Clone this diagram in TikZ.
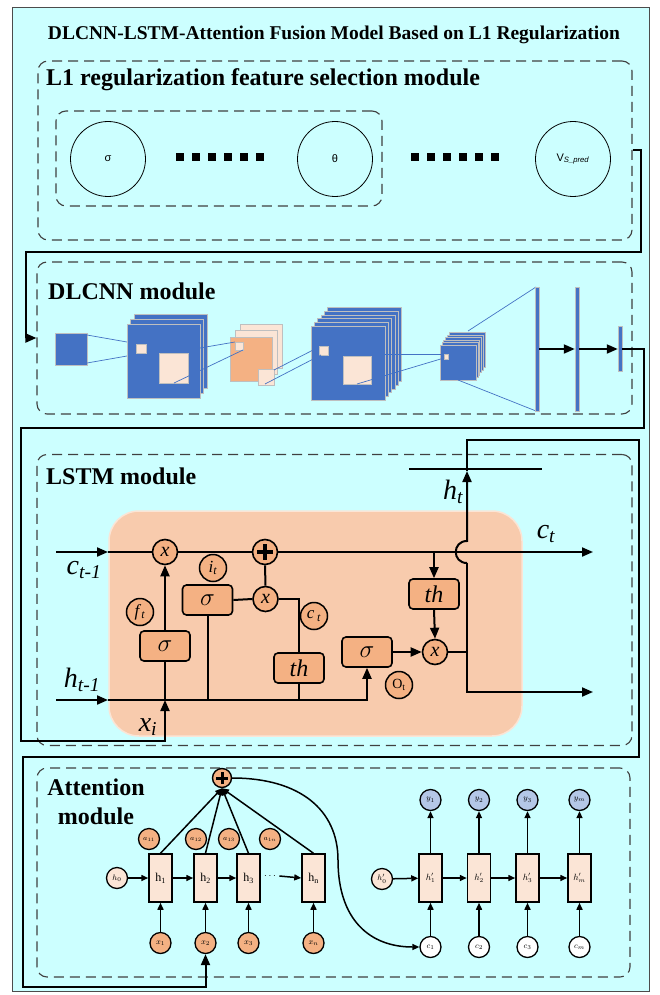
\documentclass[tikz,border=0pt]{standalone}
\usepackage{fontspec}
\setmainfont{Liberation Serif}
\setsansfont{Liberation Sans}
\usetikzlibrary{arrows.meta}

\definecolor{bgcyan}{HTML}{CCFFFF}
\definecolor{cnnblue}{HTML}{4472C4}
\definecolor{peach}{HTML}{FBE5D6}
\definecolor{lorange}{HTML}{F8CBAD}
\definecolor{gorange}{HTML}{F4B183}
\definecolor{lav}{HTML}{B4C7E7}

\newcommand{\fsz}[1]{\fontsize{#1}{#1}\selectfont}

\tikzset{
  module/.style={draw=black!75, line width=1.1pt, dash pattern=on 10pt off 6pt, rounded corners=10pt, inner sep=0pt},
  link/.style={line width=2pt},
  tip/.style={-{Triangle[length=11pt,width=9pt]}},
  gate/.style={draw, line width=1.6pt, fill=gorange, rounded corners=4pt, minimum width=50pt, minimum height=30pt, inner sep=0pt, font=\fsz{24}},
  op/.style={circle, draw, line width=1.6pt, fill=gorange, minimum size=25pt, inner sep=0pt, font=\fsz{20}},
  tag/.style={circle, draw, line width=1.5pt, fill=gorange, minimum size=27pt, inner sep=0pt, font=\fsz{17}},
  feat/.style={circle, draw, line width=0.8pt, minimum size=75pt, inner sep=0pt, font=\sffamily\fsz{11}},
  cnn/.style={fill=cnnblue, draw=black!25, line width=0.6pt},
  patch/.style={fill=peach, draw=black!25, line width=0.6pt},
  wire/.style={draw=cnnblue, line width=0.7pt},
  fc/.style={fill=cnnblue, draw=black!25, line width=0.5pt, inner sep=0pt, minimum width=4pt},
  alink/.style={line width=1.5pt},
  atip/.style={-{Triangle[length=7pt,width=6pt]}},
  cell/.style={draw, line width=1.5pt, fill=peach, minimum width=23pt, minimum height=48pt, inner sep=0pt},
  ball/.style={circle, draw, line width=1.3pt, minimum size=21pt, inner sep=0pt, font=\fsz{8}},
  lbl/.style={anchor=west, inner sep=0pt, font=\bfseries\fsz{24}},
}

\begin{document}
\begin{tikzpicture}[x=1pt,y=-1pt]
\useasboundingbox (0,0) rectangle (659,995);
\filldraw[fill=bgcyan, draw=black!70, line width=0.8pt] (12,7) rectangle (649,991);
\node[font=\bfseries\fsz{19.5}] (title) at (334,35) {DLCNN-LSTM-Attention Fusion Model Based on L1 Regularization};

% L1 module
\node[module, minimum width=594pt, minimum height=179pt] (l1box) at (335,150.5) {};
\node[lbl] (l1lbl) at (46,80) {L1 regularization feature selection module};
\node[module, minimum width=326pt, minimum height=95pt] (selbox) at (219,158.5) {};
\node[feat] (fsig) at (108,159) {σ};
\node[feat] (ftheta) at (335,159) {θ};
\node[feat] (fvs) at (573,159) {V\textsubscript{\textit{S\_pred}}};
\foreach \i in {0,...,5} {
  \fill (176+16*\i,153) rectangle ++(8,8);
  \fill (411+16*\i,153) rectangle ++(8,8);
}

% DLCNN module
\node[module, minimum width=595pt, minimum height=152pt] (cnnbox) at (334.5,338) {};
\node[lbl] (cnnlbl) at (48,291) {DLCNN module};
\draw[link, tip] (l1box.east) -| (641,252) -| (26,338) -- (cnnbox.west);

\filldraw[cnn] (55,333) rectangle (87,365);
\draw[wire] (87,335) -- (127,342);
\draw[wire] (87,363) -- (127,356);
\foreach \k in {2,1,0}
  \filldraw[cnn] (127+3.5*\k,324-5*\k) rectangle ++(73,74);
\filldraw[patch] (136,344) rectangle (146,353);
\filldraw[patch] (159,353) rectangle (188,383);
\foreach \k in {2,1}
  \filldraw[patch] (230+5*\k,337-6.5*\k) rectangle ++(42,44);
\filldraw[fill=gorange, draw=black!25, line width=0.6pt] (230,337) rectangle ++(42,44);
\filldraw[patch] (235,342) rectangle (243,350);
\filldraw[patch] (258,369) rectangle (274,385);
\draw[wire] (200,348) -- (235,342);
\draw[wire] (174,383) -- (243,350);
\foreach \k in {5,4,...,0}
  \filldraw[cnn] (311+3.3*\k,326-3.7*\k) rectangle ++(74,74);
\filldraw[patch] (319,346) rectangle (328,355);
\filldraw[patch] (343,356) rectangle (371,384);
\draw[wire] (274,370) -- (319,347);
\draw[wire] (265,384) -- (321,355);
\foreach \k in {5,4,...,0}
  \filldraw[cnn] (440+1.8*\k,345-2.5*\k) rectangle ++(36,35);
\filldraw[patch] (444,354) rectangle (448,359);
\draw[wire] (371,354) -- (444,354);
\draw[wire] (357,384) -- (444,358);
\draw[wire] (468,331) -- (536,287);
\draw[wire] (458,380) -- (536,411);
\node[fc, minimum height=124pt] (fc1) at (537,349) {};
\node[fc, minimum height=124pt] (fc2) at (577,349) {};
\node[fc, minimum height=45pt] (fc3) at (620,349) {};
\draw[link, tip] (fc1.east) -- (fc2.west);
\draw[link, tip] (fc2.east) -- (fc3.west);

% LSTM module
\node[module, minimum width=595pt, minimum height=291pt] (lstmbox) at (334.5,600) {};
\node[lbl] (lstmlbl) at (46,476) {LSTM module};
\filldraw[fill=lorange, draw=peach, line width=1.5pt, rounded corners=30pt] (109,511) rectangle (522,736);
\coordinate (xin) at (165,700);
\draw[link, tip] (fc3.east) -| (644,428) -| (21,741) -| (xin);

\node[op] (mf) at (165,552) {\textit{x}};
\node[op] (pl) at (265,552) {};
\draw[line width=3.5pt] ([xshift=-8pt]pl.center) -- ([xshift=8pt]pl.center);
\draw[line width=3.5pt] ([yshift=-8pt]pl.center) -- ([yshift=8pt]pl.center);
\node[op] (mi) at (265.5,599) {\textit{x}};
\node[op] (mo) at (435,652) {\textit{x}};
\node[gate] (sf) at (165,646) {$\sigma$};
\node[gate] (si) at (207.5,600) {$\sigma$};
\node[gate] (thc) at (299,668) {\textit{th}};
\node[gate] (so) at (367,652) {$\sigma$};
\node[gate] (tho) at (434,594) {\textit{th}};
\node[tag] (ft) at (140,612) {\textit{f}\textsubscript{\textit{t}}};
\node[tag] (it) at (213,568) {\textit{i}\textsubscript{\textit{t}}};
\node[tag] (ctil) at (314,616) {\textit{c}\,\textsubscript{\textit{t}}};
\node[tag, font=\fsz{14}] (ot) at (399,685) {O\textsubscript{t}};

\node[font=\itshape\fsz{28}] (cprev) at (84,570) {c\textsubscript{t-1}};
\node[font=\itshape\fsz{28}] (hprev) at (82,680) {h\textsubscript{t-1}};
\node[font=\itshape\fsz{28}] (xi) at (148,727) {x\textsubscript{i}};
\node[font=\itshape\fsz{28}] (ht) at (453,492) {h\textsubscript{t}};
\node[font=\itshape\fsz{28}] (ct) at (546,534) {c\textsubscript{t}};

\draw[link, tip] (56,552) -- (108,552);
\draw[link] (108,552) -- (mf.west);
\draw[link] (mf.east) -- (pl.west);
\draw[link, tip] (pl.east) -- (593,552);
\draw[link, tip] (56,700) -- (108,700);
\draw[link, tip] (108,700) -| (so.south);
\draw[link] (xin) -- (sf.south);
\draw[link, tip] (sf.north) -- (mf.south);
\draw[link] (si.south) -- (si.south |- xin);
\draw[link] (thc.south) -- (thc.south |- xin);
\draw[link] (si.east) -- (mi.west);
\draw[link] (pl.south) -- (mi.north);
\draw[link] (mi.east) -| (thc.north);
\draw[link, tip] (434,552) -- (tho.north);
\draw[link, tip] (tho.south) -- (mo.north);
\draw[link, tip] (so.east) -- (mo.west);
\draw[link] (mo.east) -- (467,652);
\draw[link, tip] (467,563) -- (467,692) -- (593,692);
\draw[link, tip] (467,563) .. controls (452,563) and (452,541) .. (467,541) -- (467,471);
\draw[link] (409,469) -- (542,469);

% Attention module
\node[module, minimum width=593pt, minimum height=209pt] (attbox) at (333.5,872.5) {};
\node[align=center, inner sep=0pt, font=\bfseries\fontsize{24}{29}\selectfont] (attlbl) at (96,802) {Attention\\module};

\node[circle, draw, line width=1.4pt, fill=gorange, minimum size=19pt, inner sep=0pt] (sum) at (222,778) {};
\draw[line width=3pt] ([xshift=-6pt]sum.center) -- ([xshift=6pt]sum.center);
\draw[line width=3pt] ([yshift=-6pt]sum.center) -- ([yshift=6pt]sum.center);

\node[ball, fill=peach] (hz) at (117,878) {$h_0$};
\node[cell, font=\fsz{12}] (h1) at (160.5,878) {h\textsubscript{1}};
\node[cell, font=\fsz{12}] (h2) at (205.5,878) {h\textsubscript{2}};
\node[cell, font=\fsz{12}] (h3) at (248.5,878) {h\textsubscript{3}};
\node[cell, font=\fsz{12}] (hn) at (313.5,878) {h\textsubscript{n}};
\node[font=\fsz{10}] (dts) at (270,876) {$\cdots$};
\node[ball, fill=gorange, font=\fsz{7}] (a1) at (149,839) {$a_{11}$};
\node[ball, fill=gorange, font=\fsz{7}] (a2) at (196,839) {$a_{12}$};
\node[ball, fill=gorange, font=\fsz{7}] (a3) at (229,839) {$a_{13}$};
\node[ball, fill=gorange, font=\fsz{7}] (an) at (270,839) {$a_{1n}$};
\node[ball, fill=gorange] (x1) at (160.5,943) {$x_1$};
\node[ball, fill=gorange] (x2) at (205.5,943) {$x_2$};
\node[ball, fill=gorange] (x3) at (248.5,943) {$x_3$};
\node[ball, fill=gorange] (xn) at (313.5,943) {$x_n$};

\draw[alink, atip] (hz) -- (h1);
\draw[alink, atip] (h1) -- (h2);
\draw[alink, atip] (h2) -- (h3);
\draw[alink, atip] (dts.east) -- (hn.west);
\foreach \n in {1,2,3,n} {
  \draw[alink, atip] (x\n) -- (h\n);
  \draw[alink, atip] (h\n.north) -- (sum.south);
}
\draw[link, tip] (467,471) -- (467,440) -| (639,757) -| (23,987) -| (x2.south);

\node[ball, fill=peach] (hzp) at (382,879) {$h_0'$};
\node[cell, font=\fsz{9}] (g1) at (430.5,878) {$h_1'$};
\node[cell, font=\fsz{9}] (g2) at (479,878) {$h_2'$};
\node[cell, font=\fsz{9}] (g3) at (527.5,878) {$h_3'$};
\node[cell, font=\fsz{9}] (gm) at (579.5,878) {$h_m'$};
\node[ball, fill=lav] (y1) at (430.5,800) {$y_1$};
\node[ball, fill=lav] (y2) at (479,800) {$y_2$};
\node[ball, fill=lav] (y3) at (527.5,800) {$y_3$};
\node[ball, fill=lav] (ym) at (579.5,800) {$y_m$};
\node[ball, fill=white] (c1) at (430.5,947) {$c_1$};
\node[ball, fill=white] (c2) at (479,947) {$c_2$};
\node[ball, fill=white] (c3) at (527.5,947) {$c_3$};
\node[ball, fill=white] (cm) at (579.5,947) {$c_m$};

\draw[alink, atip] (hzp) -- (g1);
\draw[alink, atip] (g1) -- (g2);
\draw[alink, atip] (g2) -- (g3);
\draw[alink, atip] (g3) -- (gm);
\foreach \n in {1,2,3,m} {
  \draw[alink, atip] (c\n) -- (g\n);
  \draw[alink, atip] (g\n) -- (y\n);
}
\draw[alink, atip] (sum.east) .. controls (300,778) and (338,810) .. (338,860)
  .. controls (338,920) and (370,947) .. (c1.west);
\end{tikzpicture}
\end{document}
